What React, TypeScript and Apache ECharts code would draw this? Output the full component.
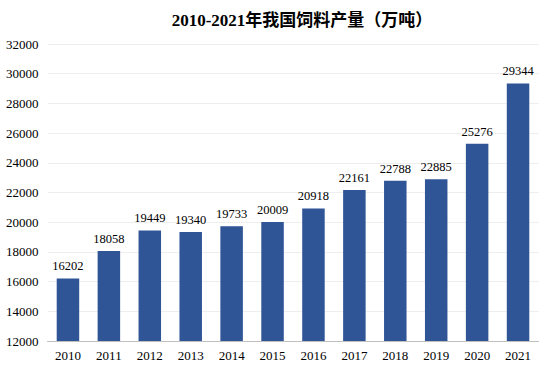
import React, { useEffect, useRef } from "react";
import * as echarts from "echarts";

const years = ["2010", "2011", "2012", "2013", "2014", "2015", "2016", "2017", "2018", "2019", "2020", "2021"];
const output = [16202, 18058, 19449, 19340, 19733, 20009, 20918, 22161, 22788, 22885, 25276, 29344];
const titleText = "2010-2021年我国饲料产量（万吨）";

const serif = "'Times New Roman', 'Liberation Serif', 'Noto Sans CJK SC', serif";

export default function App() {
  const ref = useRef<HTMLDivElement>(null);
  useEffect(() => {
    document.body.style.margin = "0";
    const chart = echarts.init(ref.current!, null, { renderer: "svg" });
    chart.setOption({
      animation: false,
      backgroundColor: "#ffffff",
      title: {
        text: titleText,
        left: 297,
        textAlign: "center",
        top: 7,
        textStyle: { fontFamily: serif, fontSize: 17, fontWeight: "bold", color: "#000" },
      },
      grid: { left: 47.5, right: 12.5, top: 44, bottom: 26 },
      xAxis: {
        type: "category",
        data: years,
        axisTick: { show: false },
        axisLine: { lineStyle: { color: "#bfbfbf", width: 1 } },
        axisLabel: { color: "#000", fontFamily: serif, fontSize: 13, margin: 8 },
      },
      yAxis: {
        type: "value",
        min: 12000,
        max: 32000,
        interval: 2000,
        axisLine: { show: false },
        axisTick: { show: false },
        splitLine: { lineStyle: { color: "#eeeeee", width: 1 } },
        axisLabel: {
          color: "#000",
          fontFamily: serif,
          fontSize: 13,
          margin: 9,
          formatter: (v: number) => String(v),
        },
      },
      series: [
        {
          type: "bar",
          data: output,
          barWidth: "55%",
          itemStyle: { color: "#2F5597" },
          label: {
            show: true,
            position: "top",
            distance: 6,
            color: "#000",
            fontFamily: serif,
            fontSize: 12.5,
          },
        },
      ],
    });
    return () => chart.dispose();
  }, []);
  return <div ref={ref} style={{ width: 551, height: 367 }} />;
}
